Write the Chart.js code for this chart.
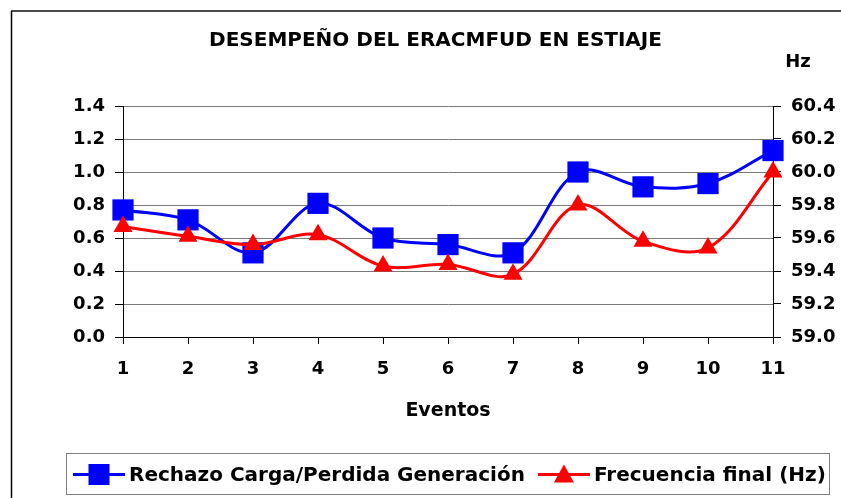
<!DOCTYPE html>
<html>
<head>
<meta charset="utf-8">
<script src="https://cdn.jsdelivr.net/npm/chart.js@4.4.0/dist/chart.umd.min.js"></script>
<style>
  html, body { margin: 0; padding: 0; background: #fff; }
  #wrap { width: 841px; height: 498px; }
</style>
</head>
<body>
<div id="wrap"><canvas id="c" width="841" height="498"></canvas></div>
<script>
const chartTitle = 'DESEMPEÑO DEL ERACMFUD EN ESTIAJE';
const xAxisTitle = 'Eventos';
const rightAxisUnit = 'Hz';
const categories = ['1', '2', '3', '4', '5', '6', '7', '8', '9', '10', '11'];
const seriesNames = ['Rechazo Carga/Perdida Generación', 'Frecuencia final (Hz)'];
const rechazoValues = [0.77, 0.71, 0.51, 0.81, 0.60, 0.56, 0.51, 1.00, 0.91, 0.93, 1.13];
const frecuenciaValues = [59.67, 59.61, 59.56, 59.62, 59.43, 59.44, 59.38, 59.80, 59.58, 59.54, 60.00];
const leftTickValues = [0.0, 0.2, 0.4, 0.6, 0.8, 1.0, 1.2, 1.4];
const rightTickValues = [59.0, 59.2, 59.4, 59.6, 59.8, 60.0, 60.2, 60.4];

const FONT = "'DejaVu Sans', 'Liberation Sans', Arial, sans-serif";
const BLUE = '#0000FF';
const RED = '#FF0000';

const decorPlugin = {
  id: 'decor',
  beforeDraw(chart) {
    const ctx = chart.ctx;
    ctx.save();
    ctx.fillStyle = '#fff';
    ctx.fillRect(0, 0, chart.width, chart.height);
    ctx.restore();
  },
  afterDraw(chart) {
    const ctx = chart.ctx;
    ctx.save();
    // outer frame (top & left edges visible)
    ctx.strokeStyle = '#4a4a4a';
    ctx.lineWidth = 2;
    ctx.beginPath();
    ctx.moveTo(11, 11);
    ctx.lineTo(chart.width, 11);
    ctx.stroke();
    ctx.strokeStyle = '#000';
    ctx.lineWidth = 1.5;
    ctx.beginPath();
    ctx.moveTo(11.5, 11);
    ctx.lineTo(11.5, chart.height);
    ctx.stroke();

    // Hz unit label over right axis
    ctx.fillStyle = '#000';
    ctx.font = 'bold 18px ' + FONT;
    ctx.textAlign = 'center';
    ctx.textBaseline = 'middle';
    ctx.fillText(rightAxisUnit, 798, 62);

    // legend box
    ctx.strokeStyle = '#7f7f7f';
    ctx.lineWidth = 1;
    ctx.strokeRect(66.5, 453.5, 763, 41);

    const cy = 474.5;
    ctx.font = 'bold 20px ' + FONT;
    ctx.textAlign = 'left';
    let x = 73;
    const ds = chart.data.datasets;
    ds.forEach((d, i) => {
      ctx.strokeStyle = d.borderColor;
      ctx.lineWidth = 3;
      ctx.beginPath();
      ctx.moveTo(x, cy);
      ctx.lineTo(x + 52, cy);
      ctx.stroke();
      ctx.fillStyle = d.backgroundColor;
      const mx = x + 26;
      if (d.pointStyle === 'rect') {
        ctx.fillRect(mx - 10.5, cy - 10.5, 21, 21);
      } else {
        ctx.beginPath();
        ctx.moveTo(mx, cy - 10);
        ctx.lineTo(mx + 10, cy + 8);
        ctx.lineTo(mx - 10, cy + 8);
        ctx.closePath();
        ctx.fill();
      }
      ctx.fillStyle = '#000';
      ctx.fillText(d.label, x + 56, cy + 1);
      x = x + 56 + ctx.measureText(d.label).width + 13;
    });
    ctx.restore();
  }
};

new Chart(document.getElementById('c'), {
  type: 'line',
  data: {
    labels: categories,
    datasets: [
      {
        label: seriesNames[0],
        data: rechazoValues,
        yAxisID: 'y',
        borderColor: BLUE,
        backgroundColor: BLUE,
        borderWidth: 3,
        pointStyle: 'rect',
        pointRadius: 15,
        pointBorderWidth: 0,
        pointBackgroundColor: BLUE,
        tension: 0.35,
        clip: false,
        order: 1
      },
      {
        label: seriesNames[1],
        data: frecuenciaValues,
        yAxisID: 'y1',
        borderColor: RED,
        backgroundColor: RED,
        borderWidth: 3,
        pointStyle: 'triangle',
        pointRadius: 11,
        pointBorderWidth: 0,
        pointBackgroundColor: RED,
        tension: 0.35,
        clip: false,
        order: 0
      }
    ]
  },
  options: {
    responsive: false,
    animation: false,
    devicePixelRatio: 1,
    layout: { padding: { left: 30, right: 0, top: 0, bottom: 0 } },
    plugins: {
      legend: { display: false },
      tooltip: { enabled: false },
      title: {
        display: true,
        text: chartTitle,
        color: '#000',
        font: { family: FONT, size: 20, weight: 'bold', lineHeight: 1.2 },
        padding: { top: 29, bottom: 53 }
      }
    },
    scales: {
      x: {
        type: 'category',
        offset: false,
        afterFit: s => { s.height = 161; },
        grid: { drawOnChartArea: false, drawTicks: true, tickLength: 7, tickColor: '#000', color: '#000' },
        border: { display: true, color: '#000', width: 1 },
        ticks: { color: '#000', font: { family: FONT, size: 18, weight: 'bold' }, padding: 15, maxRotation: 0, autoSkip: false },
        title: {
          display: true,
          text: xAxisTitle,
          color: '#000',
          font: { family: FONT, size: 19, weight: 'bold', lineHeight: 1.2 },
          padding: { top: 0, bottom: 76 }
        }
      },
      y: {
        position: 'left',
        min: 0,
        max: 1.4,
        afterFit: s => { s.width = 93; },
        afterBuildTicks: s => { s.ticks = leftTickValues.map(v => ({ value: v })); },
        grid: { color: '#7a7a7a', lineWidth: 1, tickLength: 8, tickColor: '#000' },
        border: { display: true, color: '#000', width: 1 },
        ticks: { color: '#000', font: { family: FONT, size: 18, weight: 'bold' }, padding: 10, callback: v => Number(v).toFixed(1) }
      },
      y1: {
        position: 'right',
        min: 59.0,
        max: 60.4,
        afterFit: s => { s.width = 68; },
        afterBuildTicks: s => { s.ticks = rightTickValues.map(v => ({ value: v })); },
        grid: { drawOnChartArea: false, tickLength: 8, tickColor: '#000', color: '#000' },
        border: { display: true, color: '#000', width: 1 },
        ticks: { color: '#000', font: { family: FONT, size: 18, weight: 'bold' }, padding: 10, callback: v => Number(v).toFixed(1) }
      }
    }
  },
  plugins: [decorPlugin]
});
</script>
</body>
</html>
